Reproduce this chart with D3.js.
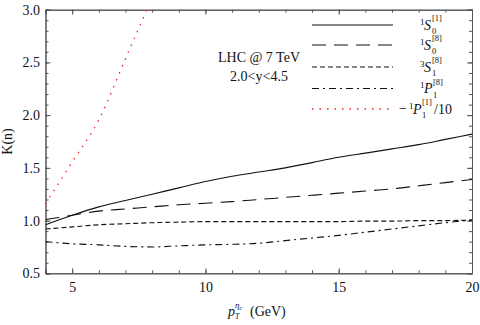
<!DOCTYPE html>
<html>
<head>
<meta charset="utf-8">
<script src="https://cdn.jsdelivr.net/npm/d3@7"></script>
<style>
  body { margin: 0; background: #fff; }
  svg { font-family: "Liberation Serif", "DejaVu Serif", serif; }
</style>
</head>
<body>
<div id="chart"></div>
<script>
// pT grid (GeV)
var pt = [4, 5, 6, 7, 8, 9, 10, 11, 12, 13, 14, 15, 16, 17, 18, 19, 20];
// K factors
var s0_1 = [0.96, 1.05, 1.13, 1.19, 1.25, 1.31, 1.37, 1.42, 1.46, 1.50, 1.55, 1.60, 1.64, 1.68, 1.72, 1.77, 1.82];
var s0_8 = [1.01, 1.05, 1.09, 1.11, 1.13, 1.15, 1.165, 1.18, 1.20, 1.22, 1.24, 1.26, 1.28, 1.30, 1.33, 1.36, 1.39];
var s1_8 = [0.92, 0.94, 0.96, 0.97, 0.98, 0.985, 0.99, 0.99, 0.99, 0.99, 0.99, 0.99, 0.995, 0.995, 1.0, 1.0, 1.005];
var p1_8 = [0.80, 0.78, 0.77, 0.755, 0.75, 0.76, 0.77, 0.775, 0.785, 0.81, 0.835, 0.86, 0.89, 0.92, 0.95, 0.98, 1.005];
var ptP1 = [4, 5, 6, 7, 8];
var p1_1 = [1.16, 1.555, 1.955, 2.535, 3.115];   // -1P1[1]/10

var xTicks = [5, 10, 15, 20];
var yTicks = [0.5, 1.0, 1.5, 2.0, 2.5, 3.0];

var W = 480, H = 325;
// note: "top" is reserved on window, so use a margin object
var m = {l: 45.5, r: 472, t: 9.7, b: 273.3};

var svg = d3.select("#chart").append("svg")
    .attr("width", W)
    .attr("height", H);

var x = d3.scaleLinear().domain([4, 20]).range([m.l, m.r]);
var y = d3.scaleLinear().domain([0.5, 3.0]).range([m.b, m.t]);

var axisColor = "#555";

function styleAxis(g) {
  g.select(".domain").attr("stroke", axisColor);
  g.selectAll(".tick line").attr("stroke", axisColor);
  g.selectAll(".tick text").attr("fill", "#111").attr("font-size", "14px")
    .attr("font-family", "Liberation Serif");
}

var xMinor = d3.range(4, 20.01, 1);
var yMinor = d3.range(0.5, 3.001, 0.1);

// minor ticks first, then majors with labels
svg.append("g").attr("transform", "translate(0," + m.b + ")")
    .call(d3.axisBottom(x).tickValues(xMinor).tickSize(-3).tickFormat(""))
    .call(styleAxis);
svg.append("g").attr("transform", "translate(0," + m.t + ")")
    .call(d3.axisTop(x).tickValues(xMinor).tickSize(-3).tickFormat(""))
    .call(styleAxis);
svg.append("g").attr("transform", "translate(" + m.l + ",0)")
    .call(d3.axisLeft(y).tickValues(yMinor).tickSize(-3).tickFormat(""))
    .call(styleAxis);
svg.append("g").attr("transform", "translate(" + m.r + ",0)")
    .call(d3.axisRight(y).tickValues(yMinor).tickSize(-3).tickFormat(""))
    .call(styleAxis);

svg.append("g").attr("transform", "translate(0," + m.b + ")")
    .call(d3.axisBottom(x).tickValues(xTicks).tickSize(-5).tickPadding(8.5).tickFormat(d3.format("d")))
    .call(styleAxis);
svg.append("g").attr("transform", "translate(0," + m.t + ")")
    .call(d3.axisTop(x).tickValues(xTicks).tickSize(-5).tickFormat(""))
    .call(styleAxis);
svg.append("g").attr("transform", "translate(" + m.l + ",0)")
    .call(d3.axisLeft(y).tickValues(yTicks).tickSize(-5).tickPadding(5.5).tickFormat(d3.format(".1f")))
    .call(styleAxis);
svg.append("g").attr("transform", "translate(" + m.r + ",0)")
    .call(d3.axisRight(y).tickValues(yTicks).tickSize(-5).tickFormat(""))
    .call(styleAxis);

// clip for curves
svg.append("clipPath").attr("id", "plotclip")
  .append("rect")
    .attr("x", m.l).attr("y", m.t)
    .attr("width", m.r - m.l).attr("height", m.b - m.t);

var series = [
  {xs: pt, ys: s0_1, color: "#111", dash: null, width: 1.1},
  {xs: pt, ys: s0_8, color: "#111", dash: "14,8", width: 1.1},
  {xs: pt, ys: s1_8, color: "#111", dash: "5,3", width: 1.1},
  {xs: pt, ys: p1_8, color: "#111", dash: "7,4,2,4", width: 1.1},
  {xs: ptP1, ys: p1_1, color: "#f22", dash: "1.5,6", width: 1.3}
];

var line = d3.line()
    .x(function(d){ return x(d[0]); })
    .y(function(d){ return y(d[1]); })
    .curve(d3.curveMonotoneX);

var plot = svg.append("g").attr("clip-path", "url(#plotclip)");
series.forEach(function(s){
  plot.append("path")
      .datum(s.xs.map(function(v, i){ return [v, s.ys[i]]; }))
      .attr("fill", "none")
      .attr("stroke", s.color)
      .attr("stroke-width", s.width)
      .attr("stroke-dasharray", s.dash)
      .attr("d", line);
});

// legend
var legendY = [25, 45, 67, 88.5, 109];
var legendLabels = [
  {pre: "1", main: "S", sub: "0", sup: "[1]"},
  {pre: "1", main: "S", sub: "0", sup: "[8]"},
  {pre: "3", main: "S", sub: "1", sup: "[8]"},
  {pre: "1", main: "P", sub: "1", sup: "[8]"},
  {pre: "1", main: "P", sub: "1", sup: "[1]", minus: true, tail: "/10"}
];

series.forEach(function(s, i){
  var ly = legendY[i];
  svg.append("line")
      .attr("x1", 312).attr("x2", 393)
      .attr("y1", ly).attr("y2", ly)
      .attr("stroke", s.color)
      .attr("stroke-width", s.width)
      .attr("stroke-dasharray", s.dash);

  var lab = legendLabels[i];
  var base = ly + 4.5;
  var x0 = lab.minus ? 409 : 420;
  var g = svg.append("g").attr("fill", "#111");
  if (lab.minus) {
    g.append("text").attr("x", x0 - 10).attr("y", base - 1).attr("font-size", "14px").text("\u2212");
  }
  g.append("text").attr("x", x0).attr("y", base - 5).attr("font-size", "9px").text(lab.pre);
  g.append("text").attr("x", x0 + 4).attr("y", base).attr("font-size", "14px")
      .attr("font-style", "italic").text(lab.main);
  var sx = x0 + (lab.main === "P" ? 13 : 12);
  g.append("text").attr("x", sx).attr("y", base + 4.5).attr("font-size", "8.5px").text(lab.sub);
  g.append("text").attr("x", sx).attr("y", base - 8.5).attr("font-size", "8.5px").text(lab.sup);
  if (lab.tail) {
    g.append("text").attr("x", sx + 12).attr("y", base).attr("font-size", "14px").text(lab.tail);
  }
});

// annotation
svg.append("text").attr("x", 259).attr("y", 62).attr("text-anchor", "middle")
    .attr("font-size", "14px").attr("fill", "#111").text("LHC @ 7 TeV");
svg.append("text").attr("x", 259).attr("y", 81).attr("text-anchor", "middle")
    .attr("font-size", "14px").attr("fill", "#111").text("2.0<y<4.5");

// axis titles
svg.append("text")
    .attr("transform", "translate(12," + ((m.t + m.b) / 2) + ") rotate(-90)")
    .attr("text-anchor", "middle")
    .attr("font-size", "14px").attr("fill", "#111")
    .text("K(n)");

var xt = svg.append("g").attr("fill", "#111");
xt.append("text").attr("x", 228).attr("y", 316).attr("font-size", "14px")
    .attr("font-style", "italic").text("p");
xt.append("text").attr("x", 235).attr("y", 319).attr("font-size", "8px")
    .attr("font-style", "italic").text("T");
xt.append("text").attr("x", 235).attr("y", 308).attr("font-size", "9px")
    .attr("font-style", "italic").text("\u03b7")
  .append("tspan").attr("font-size", "6px").attr("dy", 2).text("c");
xt.append("text").attr("x", 250).attr("y", 316).attr("font-size", "14px").text("(GeV)");
</script>
</body>
</html>
